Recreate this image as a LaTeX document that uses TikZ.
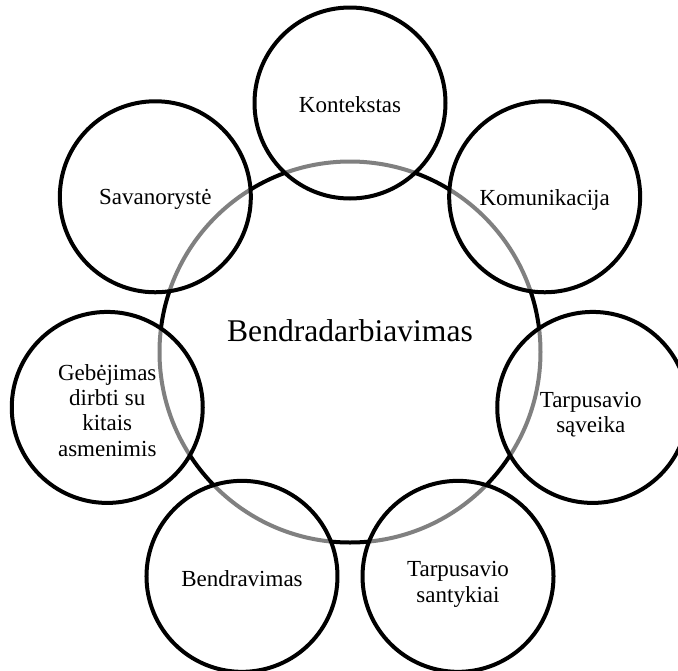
\documentclass[tikz,border=0pt]{standalone}
\usepackage{fontspec}
\setmainfont{Liberation Serif}
\usetikzlibrary{calc}
\begin{document}
\begin{tikzpicture}[x=1pt, y=-1pt,
  hubring/.style={circle, draw=black, line width=4pt, minimum size=381pt, inner sep=0pt},
  hubtext/.style={font=\fontsize{31.6}{34}\selectfont},
  petal/.style={circle, draw=black, draw opacity=1, fill=white, fill opacity=0.5,
    line width=4pt, minimum size=191pt, inner sep=0pt},
  petaltext/.style={align=center, font=\fontsize{23}{25.4}\selectfont, inner sep=0pt}]
  % canvas (y grows downward, angles measured clockwise)
  \path[use as bounding box] (0,0) rectangle (678,670);
  \fill[white] (0,0) rectangle (678,670);
  \clip (0,0) rectangle (678,670);

  % central circle
  \node[hubring] (hub) at (350,352) {};
  \node[hubtext] (hublabel) at (350,331) {Bendradarbiavimas};

  % seven surrounding circles on a heptagon (distance 249)
  \node[petal] (kontekstas)   at ($(hub.center)+(-90:249)$)     {};
  \node[petal] (savanoryste)  at ($(hub.center)+(-141.43:249)$) {};
  \node[petal] (gebejimas)    at ($(hub.center)+(-192.86:249)$) {};
  \node[petal] (bendravimas)  at ($(hub.center)+(-244.29:249)$) {};
  \node[petal] (santykiai)    at ($(hub.center)+(-295.71:249)$) {};
  \node[petal] (saveika)      at ($(hub.center)+(-347.14:249)$) {};
  \node[petal] (komunikacija) at ($(hub.center)+(-38.57:249)$)  {};

  % their labels, set a little below each centre
  \node[petaltext, yshift=-2pt] (t1) at (kontekstas)   {Kontekstas};
  \node[petaltext, yshift=-3pt] (t2) at (savanoryste)  {Savanorystė};
  \node[petaltext, yshift=-3pt] (t3) at (gebejimas)    {Gebėjimas\\dirbti su\\kitais\\asmenimis};
  \node[petaltext, yshift=-2pt] (t4) at (bendravimas)  {Bendravimas};
  \node[petaltext, yshift=-8pt] (t5) at (santykiai)    {Tarpusavio\\santykiai};
  \node[petaltext, yshift=-7pt, xshift=-2pt] (t6) at (saveika) {Tarpusavio\\sąveika};
  \node[petaltext, yshift=-3pt] (t7) at (komunikacija) {Komunikacija};
\end{tikzpicture}
\end{document}
